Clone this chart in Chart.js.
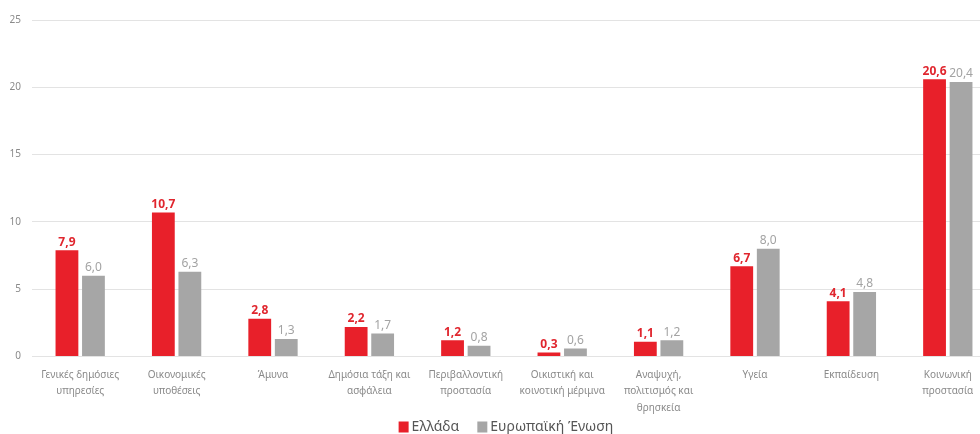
<!DOCTYPE html>
<html>
<head>
<meta charset="utf-8">
<script src="https://cdn.jsdelivr.net/npm/chart.js@4"></script>
<style>
  html, body { margin: 0; padding: 0; background: #fff; overflow: hidden; }
  #wrap { width: 980px; height: 434px; overflow: hidden; position: relative; }
  canvas { display: block; }
</style>
</head>
<body>
<div id="wrap"><canvas id="c" width="1000" height="434"></canvas></div>
<script>
// Δαπάνες γενικής κυβέρνησης ανά λειτουργία (% ΑΕΠ)
const categories = [
  ["Γενικές δημόσιες", "υπηρεσίες"],
  ["Οικονομικές", "υποθέσεις"],
  ["Άμυνα"],
  ["Δημόσια τάξη και", "ασφάλεια"],
  ["Περιβαλλοντική", "προστασία"],
  ["Οικιστική και", "κοινοτική μέριμνα"],
  ["Αναψυχή,", "πολιτισμός και", "θρησκεία"],
  ["Υγεία"],
  ["Εκπαίδευση"],
  ["Κοινωνική", "προστασία"]
];
const greece = [7.9, 10.7, 2.8, 2.2, 1.2, 0.3, 1.1, 6.7, 4.1, 20.6];
const eu     = [6.0, 6.3, 1.3, 1.7, 0.8, 0.6, 1.2, 8.0, 4.8, 20.4];
const yTicks = [0, 5, 10, 15, 20, 25];

const RED = '#e8202a';
const GREY = '#a6a6a6';
const FONT = '"Noto Sans", "Open Sans", sans-serif';

// Value labels above each bar, formatted with a decimal comma
const valueLabels = {
  id: 'valueLabels',
  afterDatasetsDraw(chart) {
    const ctx = chart.ctx;
    ctx.save();
    ctx.textAlign = 'center';
    ctx.textBaseline = 'bottom';
    chart.data.datasets.forEach((ds, i) => {
      const meta = chart.getDatasetMeta(i);
      ctx.fillStyle = i === 0 ? '#e0262e' : '#a3a3a3';
      ctx.font = (i === 0 ? 'bold ' : '') + '12px ' + FONT;
      meta.data.forEach((bar, j) => {
        const txt = ds.data[j].toFixed(1).replace('.', ',');
        ctx.fillText(txt, bar.x, bar.y - 2);
      });
    });
    ctx.restore();
  }
};

// Compact legend row centred under the chart
const bottomLegend = {
  id: 'bottomLegend',
  afterDraw(chart) {
    const ctx = chart.ctx;
    const sets = chart.data.datasets;
    const boxW = 10, boxH = 11, textGap = 3, itemGap = 18;
    const y = 427;
    ctx.save();
    ctx.font = '14px ' + FONT;
    ctx.textBaseline = 'middle';
    ctx.textAlign = 'left';
    const widths = sets.map(ds => boxW + textGap + ctx.measureText(ds.label).width);
    const total = widths.reduce((a, b) => a + b, 0) + itemGap * (sets.length - 1);
    let x = 506 - total / 2;
    sets.forEach((ds, i) => {
      ctx.fillStyle = ds.backgroundColor;
      ctx.fillRect(x, y - boxH / 2, boxW, boxH);
      ctx.fillStyle = '#555555';
      ctx.fillText(ds.label, x + boxW + textGap, y);
      x += widths[i] + itemGap;
    });
    ctx.restore();
  }
};

new Chart(document.getElementById('c'), {
  type: 'bar',
  data: {
    labels: categories,
    datasets: [
      { label: 'Ελλάδα', data: greece, backgroundColor: RED },
      { label: 'Ευρωπαϊκή Ένωση', data: eu, backgroundColor: GREY }
    ]
  },
  options: {
    responsive: false,
    animation: false,
    layout: { padding: { top: 20, left: 2, right: 4, bottom: 16 } },
    datasets: { bar: { categoryPercentage: 0.55, barPercentage: 0.86 } },
    scales: {
      x: {
        grid: { display: false },
        border: { display: false },
        ticks: {
          color: '#8a8a8a',
          font: { family: FONT, size: 10, lineHeight: 1.65 },
          maxRotation: 0,
          autoSkip: false,
          padding: 2
        }
      },
      y: {
        min: 0,
        max: 25,
        afterBuildTicks(axis) { axis.ticks = yTicks.map(v => ({ value: v })); },
        afterFit(axis) { axis.width = 30; },
        grid: { color: '#e3e3e3', lineWidth: 1, drawTicks: false },
        border: { display: false },
        ticks: {
          color: '#8a8a8a',
          font: { family: FONT, size: 10 },
          padding: 11
        }
      }
    },
    plugins: {
      legend: { display: false },
      tooltip: { enabled: false }
    }
  },
  plugins: [valueLabels, bottomLegend]
});
</script>
</body>
</html>
